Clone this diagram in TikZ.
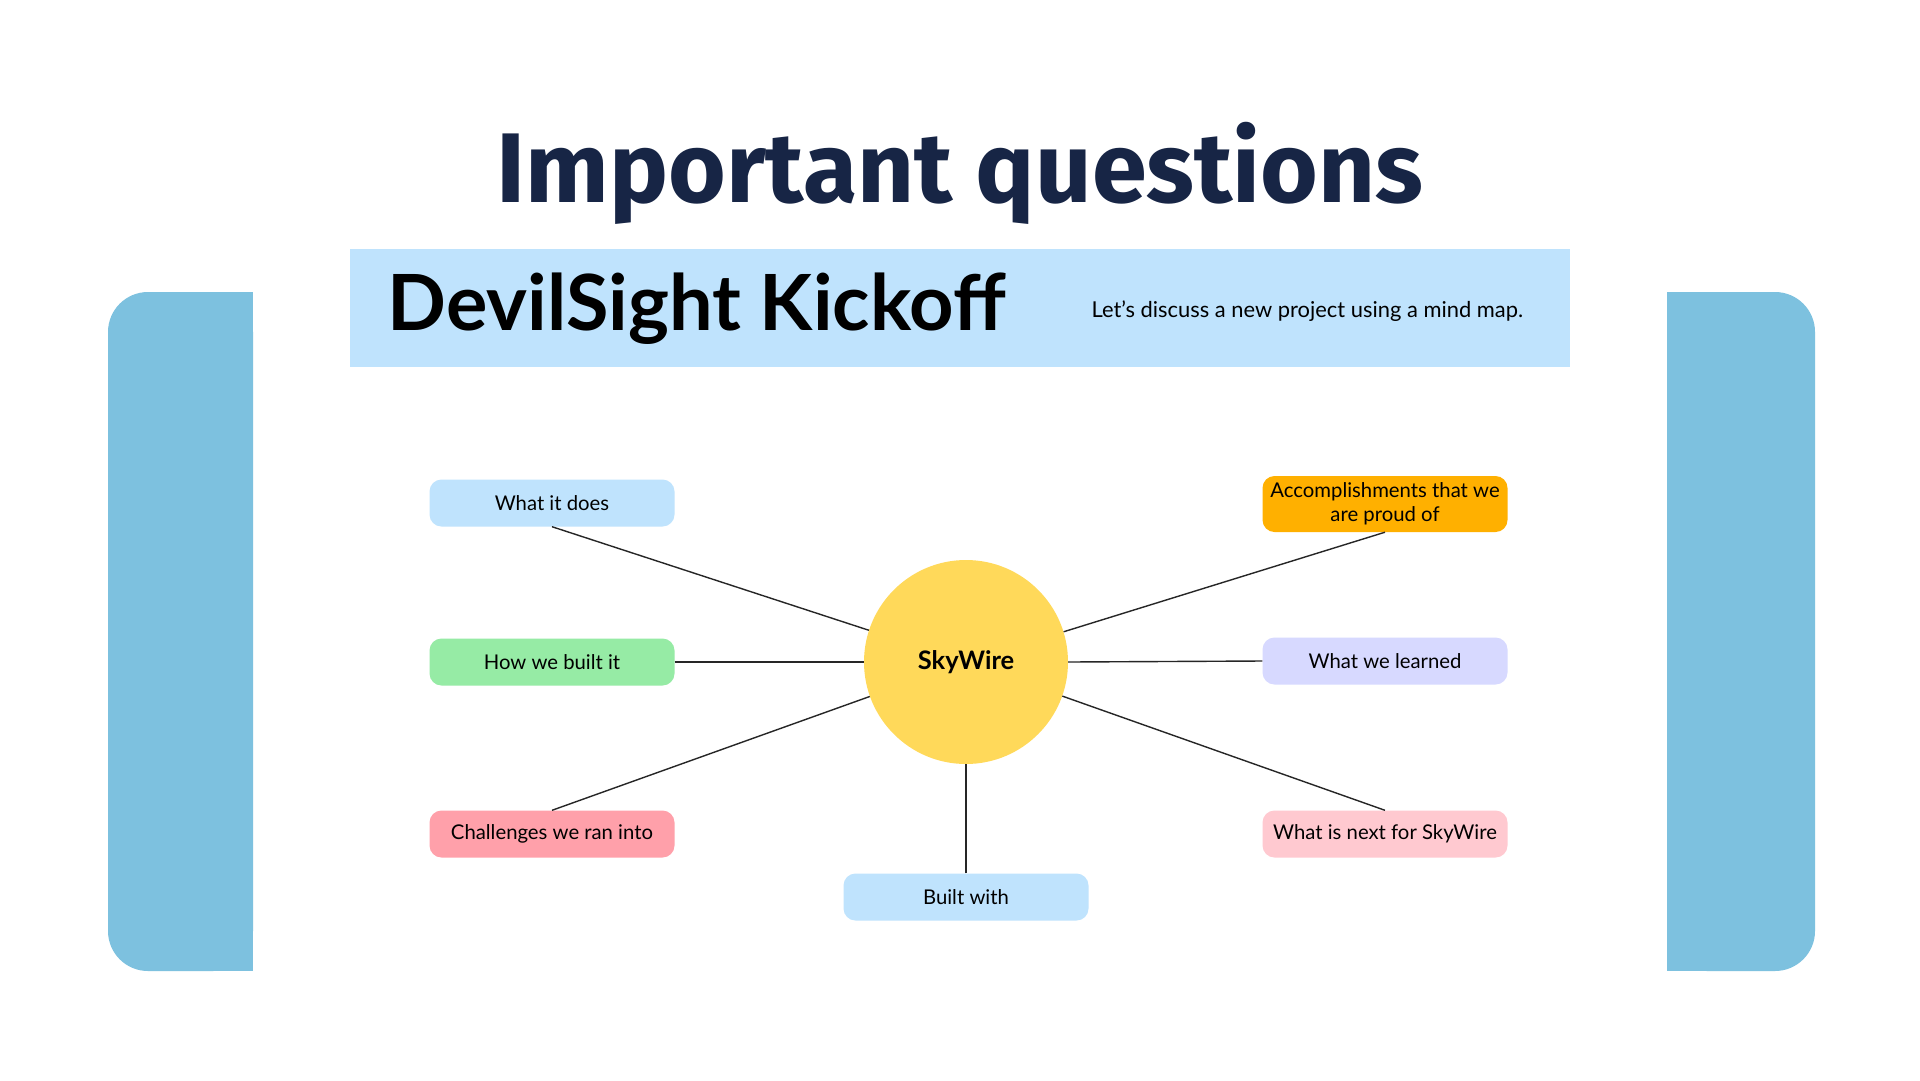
\documentclass[tikz,border=0pt]{standalone}
\usepackage{fontspec}
\setmainfont{Lato}
\newfontfamily\titlefont{Fira Sans}
\definecolor{navy}{HTML}{172545}
\definecolor{sidebar}{HTML}{7DC1DF}
\definecolor{paleblue}{HTML}{BFE3FD}
\definecolor{sun}{HTML}{FFD95A}
\definecolor{mint}{HTML}{96EBA5}
\definecolor{rose}{HTML}{FFA0AA}
\definecolor{amber}{HTML}{FFB000}
\definecolor{lavender}{HTML}{D7D9FF}
\definecolor{blush}{HTML}{FFC9D0}
\begin{document}
\begin{tikzpicture}[x=1pt,y=-1pt,
  topic/.style={rounded corners=12pt, minimum width=245pt, minimum height=47pt,
    inner sep=2pt, align=center, font=\fontsize{20.3}{24}\selectfont, text=black},
  hub/.style={circle, fill=sun, minimum size=204pt, inner sep=0pt,
    font=\fontsize{25.5}{29}\selectfont\bfseries},
  link/.style={draw=black!85, line width=1.4pt}]
\useasboundingbox (0,0) rectangle (1920,1080);
\fill[white] (0,0) rectangle (1920,1080);

% side panels, rounded on the outer side only
\fill[sidebar, rounded corners=40pt] (108,292) rectangle (253,971);
\fill[sidebar] (200,292) rectangle (253,971);
\fill[sidebar, rounded corners=40pt] (1667,292) rectangle (1815,971);
\fill[sidebar] (1667,292) rectangle (1720,971);

% heading
\node[text=navy, font=\titlefont\fontsize{99}{110}\selectfont\bfseries] (title) at (960,173) {Important questions};

% banner
\fill[paleblue] (350,249) rectangle (1570,367);
\node[anchor=west, font=\fontsize{77.5}{82}\selectfont\bfseries] (kickoff) at (384,309) {DevilSight Kickoff};
\node[anchor=west, font=\fontsize{21.9}{26}\selectfont] (sub) at (1088,311) {Let's discuss a new project using a mind map.};

% mind map
\node[hub] (hub) at (966,662) {SkyWire};

\node[topic, fill=paleblue] (does) at (552,503) {What it does};
\node[topic, fill=mint] (how) at (552,662) {How we built it};
\node[topic, fill=rose] (chal) at (552,834) {Challenges we ran into};
\node[topic, fill=paleblue] (built) at (966,897) {Built with};
\node[topic, fill=amber, minimum height=56pt, font=\fontsize{20.3}{24}\selectfont] (acc) at (1385,504) {Accomplishments that we\\are proud of};
\node[topic, fill=lavender] (learn) at (1385,661) {What we learned};
\node[topic, fill=blush] (next) at (1385,834) {What is next for SkyWire};

\draw[link] (does.south) -- (hub);
\draw[link] (how.east) -- (hub);
\draw[link] (chal.north) -- (hub);
\draw[link] (built.north) -- (hub);
\draw[link] (acc.south) -- (hub);
\draw[link] (learn.west) -- (hub.east);
\draw[link] (next.north) -- (hub);
\end{tikzpicture}
\end{document}
